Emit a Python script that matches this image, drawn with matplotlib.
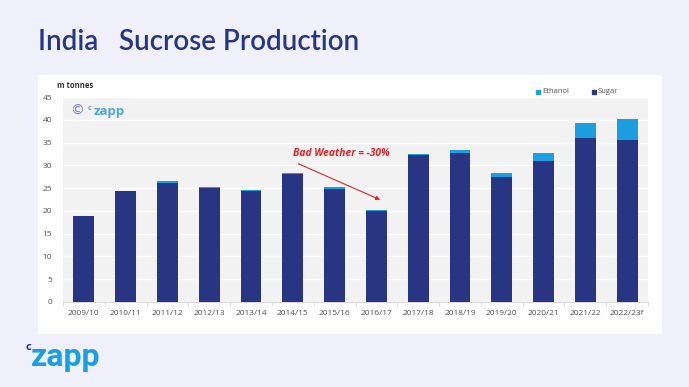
import numpy as np
import matplotlib.pyplot as plt
from matplotlib.patches import Rectangle

seasons = ['2009/10', '2010/11', '2011/12', '2012/13', '2013/14', '2014/15', '2015/16',
           '2016/17', '2017/18', '2018/19', '2019/20', '2020/21', '2021/22', '2022/23f']
sugar = [18.9, 24.4, 26.2, 25.0, 24.4, 28.2, 24.9, 20.0, 32.3, 32.8, 27.4, 31.0, 35.9, 35.5]
ethanol = [0.0, 0.0, 0.3, 0.3, 0.2, 0.2, 0.3, 0.2, 0.2, 0.5, 1.0, 1.7, 3.4, 4.6]

navy = '#283583'
blue = '#1c9fe0'
bg = '#eff0fa'

plt.rcParams['font.family'] = ['Open Sans', 'DejaVu Sans']

fig = plt.figure(figsize=(6.89, 3.87), dpi=100)
fig.patch.set_facecolor(bg)

# white panel behind chart
fig.patches.append(Rectangle((38 / 689, 1 - 334 / 387), 624 / 689, 259 / 387,
                             transform=fig.transFigure, facecolor='white',
                             edgecolor='none', zorder=-5))

fig.text(38 / 689, 1 - 42 / 387, 'India   Sucrose Production', fontsize=20,
         color=navy, fontweight='semibold', va='center', ha='left', family='Lato')

ax = fig.add_axes([63 / 689, 1 - 302 / 387, 585 / 689, 205 / 387])
ax.set_facecolor('#f2f2f2')
x = np.arange(len(seasons))
ax.bar(x, sugar, width=0.5, color=navy, label='Sugar', zorder=3)
ax.bar(x, ethanol, width=0.5, bottom=sugar, color=blue, label='Ethanol', zorder=3)

ax.set_xlim(-0.5, len(seasons) - 0.5)
ax.set_ylim(0, 45)
ax.set_yticks(range(0, 46, 5))
ax.grid(axis='y', color='white', linewidth=1, zorder=1)
ax.set_xticks(x)
ax.set_xticklabels(seasons)
ax.set_xticks(np.arange(-0.5, len(seasons), 1), minor=True)
ax.tick_params(axis='x', which='major', length=0, labelsize=6, colors='#555555', pad=6)
ax.tick_params(axis='x', which='minor', length=3, color='#d9d9d9')
ax.tick_params(axis='y', length=0, labelsize=6, colors='#555555', pad=8)
for s in ax.spines.values():
    s.set_visible(False)
ax.spines['bottom'].set_visible(True)
ax.spines['bottom'].set_color('#d9d9d9')

fig.text(57 / 689, 1 - 85 / 387, 'm tonnes', fontsize=5.5, fontweight='bold',
         color='#333333', va='center')

# legend
fig.patches.append(Rectangle((536 / 689, 1 - 93.5 / 387), 4 / 689, 4 / 387,
                             transform=fig.transFigure, color=blue))
fig.text(542 / 689, 1 - 91.5 / 387, 'Ethanol', fontsize=5.5, color='#555555', va='center')
fig.patches.append(Rectangle((592 / 689, 1 - 93.5 / 387), 4 / 689, 4 / 387,
                             transform=fig.transFigure, color=navy))
fig.text(598 / 689, 1 - 91.5 / 387, 'Sugar', fontsize=5.5, color='#555555', va='center')

# watermark
ax.text(0.012, 0.93, '\u00a9', transform=ax.transAxes, fontsize=10, color='#8080c0',
        va='center', family='DejaVu Sans')
ax.text(0.042, 0.945, 'c', transform=ax.transAxes, fontsize=5, color='#8080c0',
        va='center', fontweight='bold')
ax.text(0.052, 0.93, 'zapp', transform=ax.transAxes, fontsize=9.5, color='#4aa8e0',
        va='center', fontweight='bold')

# annotation
ax.annotate('', xy=(7.15, 22.2), xytext=(5.07, 30.6),
            arrowprops=dict(arrowstyle='-|>', color='#e0252b', lw=0.8, mutation_scale=6),
            zorder=5)
ax.text(5.0, 32.5, 'Bad Weather = -30%', fontsize=7.4, color='#e0252b', fontweight='bold',
        fontstyle='italic', va='center', ha='left', zorder=5)

# logo bottom-left
fig.text(25 / 689, 1 - 348 / 387, 'c', fontsize=8, color=navy, fontweight='bold', va='center')
fig.text(31 / 689, 1 - 357 / 387, 'zapp', fontsize=23, color=blue, fontweight='bold',
         va='center', family='Roboto')

fig.savefig('out.png', dpi=100, facecolor=bg)
